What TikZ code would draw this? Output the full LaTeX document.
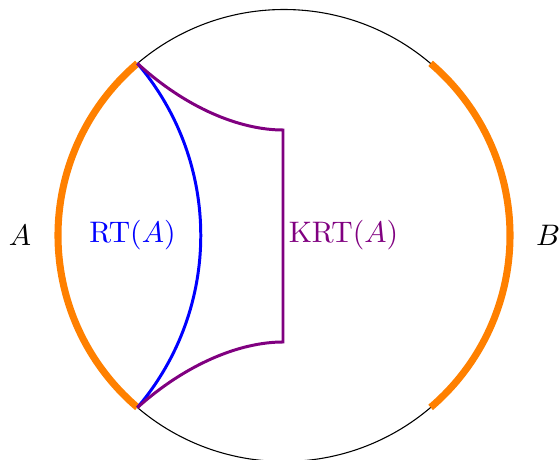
\documentclass[tikz,border=0pt,11pt]{standalone}
\definecolor{purp}{RGB}{128,0,128}
\definecolor{orng}{RGB}{255,128,0}
\begin{document}
\begin{tikzpicture}[x=0.369pt,y=0.369pt,
  bdry/.style={black,line width=0.4pt},
  region/.style={orng,line width=2.6pt},
  rtcurve/.style={blue,line width=1.1pt},
  krtcurve/.style={purp,line width=1.1pt},
  lab/.style={inner sep=0pt}]
\useasboundingbox (0,0) rectangle (560,459);
\coordinate (O) at (284,223.5);
\coordinate (A1) at (137.4,395.6);
\coordinate (A2) at (137.4,51.4);
\coordinate (B1) at (430.6,395.6);
\coordinate (B2) at (430.6,51.4);
\coordinate (P1) at (283,329);
\coordinate (P2) at (283,117);
% boundary
\draw[bdry] (O) circle[radius=226];
% regions A and B
\draw[region] (A1) arc[start angle=130.44, end angle=229.56, radius=226];
\draw[region] (B1) arc[start angle=49.56, end angle=-49.56, radius=226];
% RT surface
\draw[rtcurve] (A1) arc[start angle=40.44, end angle=-40.44, radius=265.3];
% KRT surface
\draw[krtcurve] (A1) .. controls (186,351) and (240,329) .. (P1) -- (P2)
  .. controls (240,117) and (186,95) .. (A2);
% labels
\node[lab] (la) at (20,224) {$A$};
\node[lab] (lb) at (548,224) {$B$};
\node[lab,text=blue] (lrt) at (132.5,224) {$\mathrm{RT}(A)$};
\node[lab,text=purp] (lkrt) at (343.5,224) {$\mathrm{KRT}(A)$};
\end{tikzpicture}
\end{document}
